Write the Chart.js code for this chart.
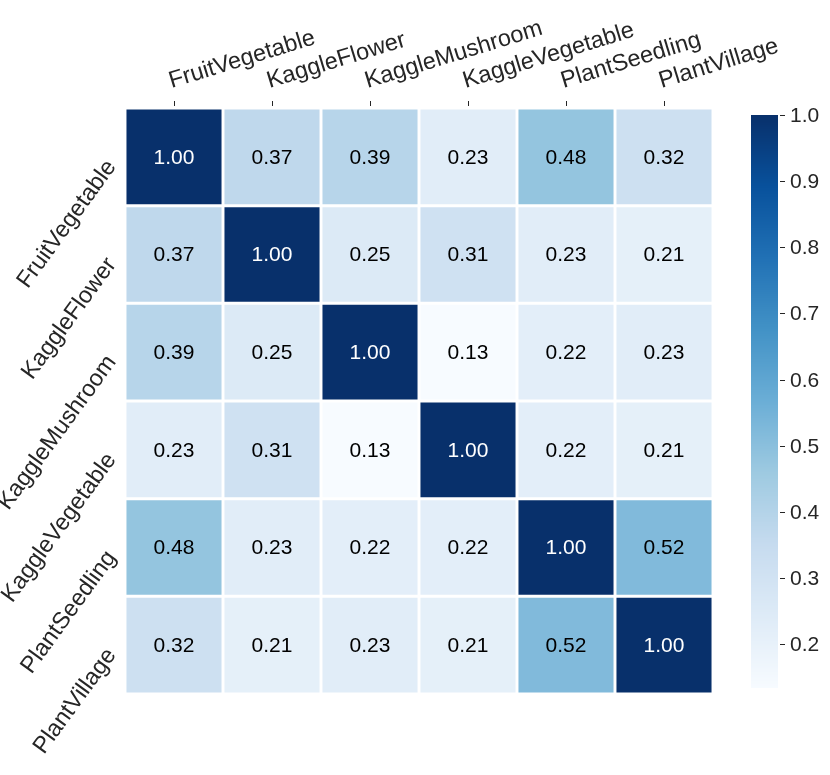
<!DOCTYPE html>
<html>
<head>
<meta charset="utf-8">
<script src="https://cdn.jsdelivr.net/npm/chart.js@4"></script>
<style>
  html, body { margin: 0; padding: 0; background: #fff; }
  #wrap { width: 830px; height: 775px; }
</style>
</head>
<body>
<div id="wrap"><canvas id="heatmap" width="830" height="775"></canvas></div>
<script>
// Data
const datasetNames = ['FruitVegetable', 'KaggleFlower', 'KaggleMushroom', 'KaggleVegetable', 'PlantSeedling', 'PlantVillage'];
const rowFruitVegetable  = [1.00, 0.37, 0.39, 0.23, 0.48, 0.32];
const rowKaggleFlower    = [0.37, 1.00, 0.25, 0.31, 0.23, 0.21];
const rowKaggleMushroom  = [0.39, 0.25, 1.00, 0.13, 0.22, 0.23];
const rowKaggleVegetable = [0.23, 0.31, 0.13, 1.00, 0.22, 0.21];
const rowPlantSeedling   = [0.48, 0.23, 0.22, 0.22, 1.00, 0.52];
const rowPlantVillage    = [0.32, 0.21, 0.23, 0.21, 0.52, 1.00];
const matrix = [rowFruitVegetable, rowKaggleFlower, rowKaggleMushroom, rowKaggleVegetable, rowPlantSeedling, rowPlantVillage];
const colorbarTicks = [0.2, 0.3, 0.4, 0.5, 0.6, 0.7, 0.8, 0.9, 1.0];
const vMin = 0.134, vMax = 1.0;

// matplotlib "Blues"
const bluesStops = ['#f7fbff', '#deebf7', '#c6dbef', '#9ecae1', '#6baed6', '#4292c6', '#2171b5', '#08519c', '#08306b'];
function hexToRgb(h) {
    return [parseInt(h.slice(1, 3), 16), parseInt(h.slice(3, 5), 16), parseInt(h.slice(5, 7), 16)];
}
function blues(v) {
    let t = (v - vMin) / (vMax - vMin);
    t = Math.max(0, Math.min(1, t));
    const pos = t * (bluesStops.length - 1);
    const i = Math.min(Math.floor(pos), bluesStops.length - 2);
    const f = pos - i;
    const a = hexToRgb(bluesStops[i]), b = hexToRgb(bluesStops[i + 1]);
    const c = a.map((x, k) => Math.round(x + (b[k] - x) * f));
    return `rgb(${c[0]},${c[1]},${c[2]})`;
}

const FONT = '"Liberation Sans", Arial, sans-serif';
const TEXT = '#262626';

// Labels, annotations and colorbar
const heatmapExtras = {
    id: 'heatmapExtras',
    afterDatasetsDraw(chart) {
        const ctx = chart.ctx;
        const xs = chart.scales.x, ys = chart.scales.y;
        const area = chart.chartArea;
        ctx.save();

        // cell values
        ctx.font = '21px ' + FONT;
        ctx.textAlign = 'center';
        ctx.textBaseline = 'middle';
        matrix.forEach((row, r) => {
            row.forEach((v, c) => {
                ctx.fillStyle = v > 0.7 ? '#ffffff' : '#000000';
                ctx.fillText(v.toFixed(2), xs.getPixelForValue(c), ys.getPixelForValue(r + 0.5) + 1);
            });
        });

        // top tick marks + labels
        ctx.strokeStyle = TEXT;
        ctx.lineWidth = 1;
        ctx.fillStyle = TEXT;
        ctx.font = '23.5px ' + FONT;
        datasetNames.forEach((name, i) => {
            const x = Math.round(xs.getPixelForValue(i)) + 0.5;
            ctx.beginPath();
            ctx.moveTo(x, area.top - 7);
            ctx.lineTo(x, area.top - 2);
            ctx.stroke();
            ctx.save();
            ctx.translate(x - 3, area.top - 20);
            ctx.rotate(-17 * Math.PI / 180);
            ctx.textAlign = 'left';
            ctx.textBaseline = 'alphabetic';
            ctx.fillText(name, 0, 0);
            ctx.restore();
        });

        // left labels
        datasetNames.forEach((name, i) => {
            const y = ys.getPixelForValue(i + 0.5);
            ctx.save();
            ctx.translate(area.left - 13.5, y + 6);
            ctx.rotate(-54 * Math.PI / 180);
            ctx.textAlign = 'right';
            ctx.textBaseline = 'middle';
            ctx.fillText(name, 0, 0);
            ctx.restore();
        });

        // colorbar
        const cbLeft = 751, cbRight = 778, cbTop = 115, cbBottom = 688;
        const cbY = v => cbTop + (vMax - v) / (vMax - vMin) * (cbBottom - cbTop);
        for (let y = cbTop; y < cbBottom; y++) {
            const v = vMax - (y + 0.5 - cbTop) / (cbBottom - cbTop) * (vMax - vMin);
            ctx.fillStyle = blues(v);
            ctx.fillRect(cbLeft, y, cbRight - cbLeft, 1);
        }
        ctx.fillStyle = TEXT;
        ctx.font = '21px ' + FONT;
        ctx.textAlign = 'left';
        ctx.textBaseline = 'middle';
        colorbarTicks.forEach(t => {
            const y = Math.round(cbY(t)) + 0.5;
            ctx.beginPath();
            ctx.moveTo(cbRight + 2, y);
            ctx.lineTo(cbRight + 7, y);
            ctx.stroke();
            ctx.fillText(t.toFixed(1), cbRight + 12, y + 1);
        });

        ctx.restore();
    }
};

new Chart(document.getElementById('heatmap'), {
    type: 'bar',
    data: {
        labels: datasetNames,
        datasets: matrix.map((row, r) => ({
            label: datasetNames[r],
            data: row.map(() => [r, r + 1]),
            backgroundColor: row.map(v => blues(v)),
            borderColor: '#ffffff',
            borderWidth: 1.8,
            borderSkipped: false,
            grouped: false,
            barPercentage: 1,
            categoryPercentage: 1,
        })),
    },
    options: {
        responsive: false,
        animation: false,
        layout: { padding: { left: 125, right: 117, top: 108, bottom: 81 } },
        plugins: {
            legend: { display: false },
            tooltip: { enabled: false },
        },
        scales: {
            x: { type: 'category', display: false, offset: true },
            y: { type: 'linear', display: false, min: 0, max: 6, reverse: true },
        },
    },
    plugins: [heatmapExtras],
});
</script>
</body>
</html>
